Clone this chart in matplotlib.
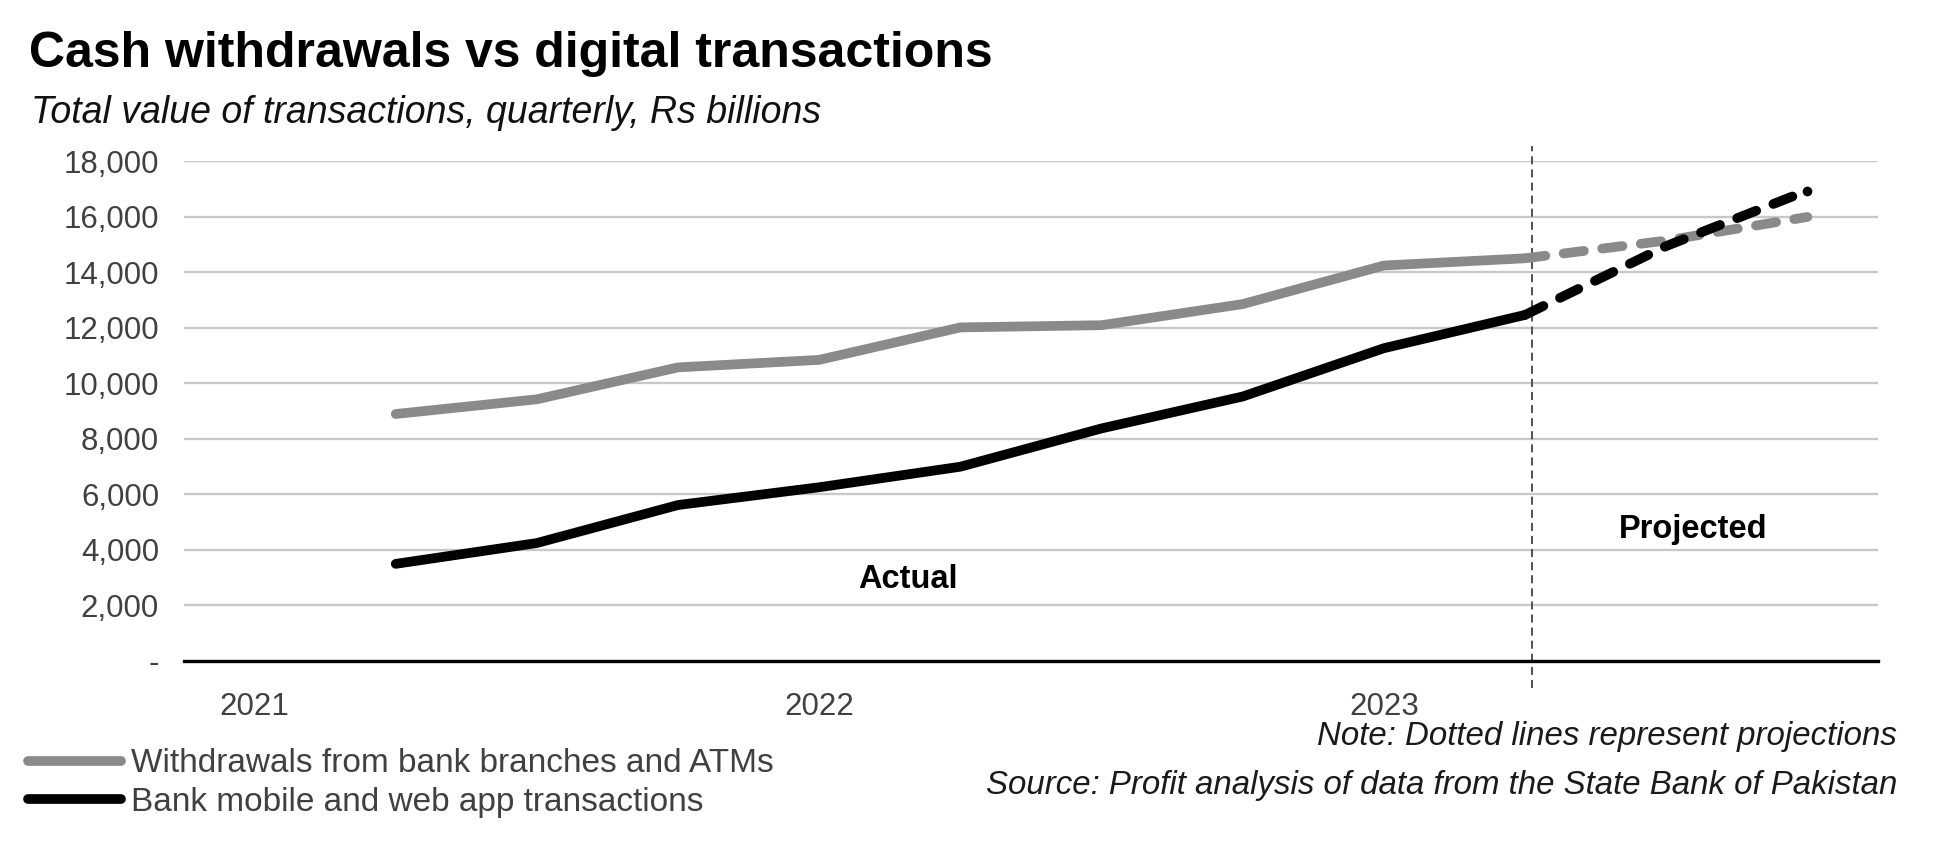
import matplotlib.pyplot as plt
from matplotlib.ticker import FuncFormatter

plt.rcParams['font.family'] = ['Liberation Sans', 'DejaVu Sans']

# quarterly categories on the x axis
quarters = ['2021 Q1', '2021 Q2', '2021 Q3', '2021 Q4',
            '2022 Q1', '2022 Q2', '2022 Q3', '2022 Q4',
            '2023 Q1', '2023 Q2', '2023 Q3', '2023 Q4']
actual_quarters = quarters[1:10]
projected_quarters = quarters[9:]

# Rs billions
withdrawals_actual = [8900, 9430, 10580, 10850, 12020, 12100, 12860, 14250, 14510]
withdrawals_projected = [14510, 15150, 16000]
digital_actual = [3500, 4250, 5620, 6260, 7000, 8380, 9530, 11270, 12470]
digital_projected = [12470, 14950, 16950]

year_labels = ['2021', '2022', '2023']
year_quarters = ['2021 Q1', '2022 Q1', '2023 Q1']
yticks = list(range(0, 18001, 2000))

series_names = ['Withdrawals from bank branches and ATMs',
                'Bank mobile and web app transactions']

title = 'Cash withdrawals vs digital transactions'
subtitle = 'Total value of transactions, quarterly, Rs billions'
note = 'Note: Dotted lines represent projections'
source = 'Source: Profit analysis of data from the State Bank of Pakistan'

gray = '#8a8a8a'
text_gray = '#404040'

x_act = [quarters.index(q) for q in actual_quarters]
x_proj = [quarters.index(q) for q in projected_quarters]
split_x = quarters.index('2023 Q2') + 0.05

fig = plt.figure(figsize=(19.41, 8.52), dpi=100)
ax = fig.add_axes([0.0948, 0.2242, 0.8727, 0.5863])

l1, = ax.plot(x_act, withdrawals_actual, color=gray, lw=7,
              solid_capstyle='round', solid_joinstyle='round', zorder=3)
ax.plot(x_proj, withdrawals_projected, color=gray, lw=7, dashes=(2.1, 1.9),
        dash_capstyle='round', zorder=3)
l2, = ax.plot(x_act, digital_actual, color='black', lw=7,
              solid_capstyle='round', solid_joinstyle='round', zorder=4)
ax.plot(x_proj, digital_projected, color='black', lw=7, dashes=(2.1, 1.9),
        dash_capstyle='round', marker='o', markevery=[-1], markersize=7,
        markeredgewidth=0, zorder=4)

ax.axvline(split_x, ymin=-0.055, ymax=1.03, color='#555555', lw=1.45,
           dashes=(4, 2.5), clip_on=False, zorder=2)

ax.text(4.63, 2950, 'Actual', ha='center', va='center', fontsize=23.5, fontweight='bold')
ax.text(10.19, 4720, 'Projected', ha='center', va='center', fontsize=23.5, fontweight='bold')

ax.set_xlim(-0.5, len(quarters) - 0.5)
ax.set_ylim(0, 18000)
ax.set_xticks([quarters.index(q) for q in year_quarters])
ax.set_xticklabels(year_labels)
ax.set_yticks(yticks)
ax.yaxis.set_major_formatter(FuncFormatter(lambda v, p: '-' if v == 0 else f'{int(v):,}'))

for s in ['top', 'left', 'right']:
    ax.spines[s].set_visible(False)
ax.spines['bottom'].set_color('black')
ax.spines['bottom'].set_linewidth(2.4)
ax.spines['bottom'].set_zorder(5)

ax.set_axisbelow(True)
ax.yaxis.grid(True, color='#c8c8c8', lw=1.7)
ax.tick_params(length=0, labelsize=22.5, labelcolor=text_gray)
ax.tick_params(axis='y', pad=18)
ax.tick_params(axis='x', pad=22)

fig.legend(handles=[l1, l2], labels=series_names, loc='upper left',
           bbox_to_anchor=(0.0144, 0.1215), frameon=False, borderpad=0,
           borderaxespad=0, handlelength=2.8, handletextpad=0.3,
           labelspacing=0.22, fontsize=24, labelcolor=text_gray)

fig.text(0.0149, 0.9208, title, fontsize=36, fontweight='bold', va='baseline')
fig.text(0.016, 0.8562, subtitle, fontsize=27, style='italic', va='baseline', color='#111111')
fig.text(0.9773, 0.135, note, ha='right', va='center', fontsize=23.8, style='italic', color='#1a1a1a')
fig.text(0.9773, 0.078, source, ha='right', va='center', fontsize=23.8, style='italic', color='#1a1a1a')

fig.savefig('out.png', dpi=100)
